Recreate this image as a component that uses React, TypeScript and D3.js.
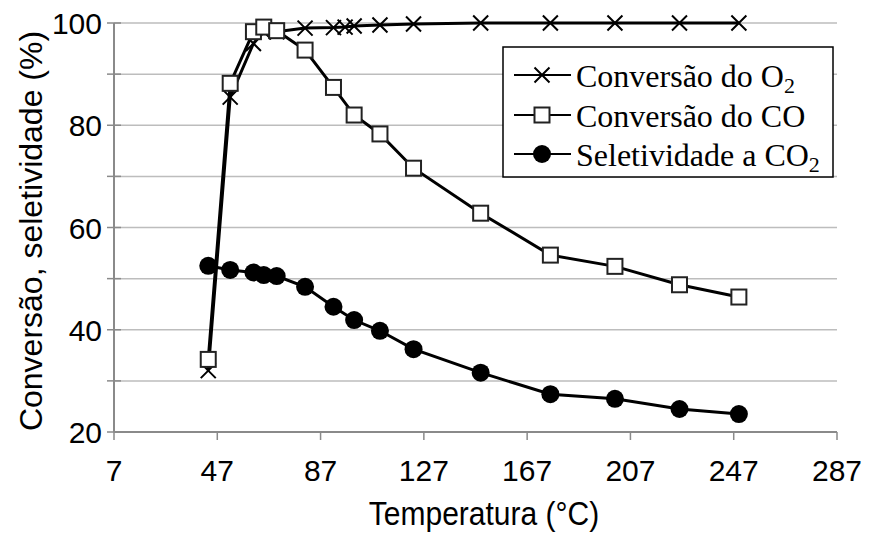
import React from "react";
import * as d3 from "d3";

const tempsO2 = [43.5, 52, 61, 65, 70, 81, 92, 96.5, 100, 110, 123, 149, 176, 201, 226, 249];
const convO2 = [32, 85.5, 96, 98.3, 98.3, 99.0, 99.1, 99.2, 99.4, 99.6, 99.8, 100, 100, 100, 100, 100];

const temps = [43.5, 52, 61, 65, 70, 81, 92, 100, 110, 123, 149, 176, 201, 226, 249];
const convCO = [34.2, 88.2, 98.3, 99.2, 98.5, 94.7, 87.4, 82.0, 78.3, 71.6, 62.8, 54.6, 52.4, 48.8, 46.4];
const selCO2 = [52.5, 51.7, 51.2, 50.7, 50.5, 48.4, 44.5, 41.9, 39.8, 36.2, 31.6, 27.4, 26.5, 24.5, 23.5];

const xTicks = [7, 47, 87, 127, 167, 207, 247, 287];
const yTicks = [20, 30, 40, 50, 60, 70, 80, 90, 100];
const yLabels = [20, 40, 60, 80, 100];

const legendLabels = [
  { main: "Conversão do O", sub: "2", marker: "x" },
  { main: "Conversão do CO", sub: "", marker: "square" },
  { main: "Seletividade a CO", sub: "2", marker: "circle" },
];

const W = 872;
const H = 534;

export default function App() {
  const x = d3.scaleLinear().domain([7, 287]).range([114, 837]);
  const y = d3.scaleLinear().domain([20, 100]).range([432, 23]);
  const line = d3
    .line<[number, number]>()
    .x((d) => x(d[0]))
    .y((d) => y(d[1]));

  const o2Pts: [number, number][] = tempsO2.map((t, i) => [t, convO2[i]]);
  const coPts: [number, number][] = temps.map((t, i) => [t, convCO[i]]);
  const selPts: [number, number][] = temps.map((t, i) => [t, selCO2[i]]);

  const sans = "'Liberation Sans', Arial, sans-serif";
  const serif = "'Liberation Serif', 'Times New Roman', serif";

  const xMark = (cx: number, cy: number, k: string) => (
    <path
      key={k}
      d={`M${cx - 7.5},${cy - 7.5}L${cx + 7.5},${cy + 7.5}M${cx - 7.5},${cy + 7.5}L${cx + 7.5},${cy - 7.5}`}
      stroke="#000"
      strokeWidth={2}
      fill="none"
    />
  );
  const sqMark = (cx: number, cy: number, k: string) => (
    <rect key={k} x={cx - 7.5} y={cy - 7.5} width={15} height={15} fill="#fff" stroke="#222" strokeWidth={2} />
  );
  const ciMark = (cx: number, cy: number, k: string) => <circle key={k} cx={cx} cy={cy} r={9} fill="#000" />;

  const legRows = [75, 115, 154];

  return (
    <svg width={W} height={H} style={{ position: "absolute", left: 0, top: 0, background: "#fff" }}>
      {/* grid */}
      {yTicks.slice(1).map((t) => (
        <line key={"g" + t} x1={x(7)} x2={x(287)} y1={y(t)} y2={y(t)} stroke="#bdbdbd" strokeWidth={1.5} />
      ))}
      {/* axes */}
      <line x1={x(7)} x2={x(287)} y1={y(20)} y2={y(20)} stroke="#8a8a8a" strokeWidth={2} />
      <line x1={x(7)} x2={x(7)} y1={y(100)} y2={y(20)} stroke="#8a8a8a" strokeWidth={2} />
      {yTicks.map((t) => (
        <line key={"yt" + t} x1={x(7) - 7} x2={x(7) + 7} y1={y(t)} y2={y(t)} stroke="#8a8a8a" strokeWidth={1.5} />
      ))}
      {xTicks.map((t) => (
        <line key={"xt" + t} x1={x(t)} x2={x(t)} y1={y(20)} y2={y(20) + 8} stroke="#8a8a8a" strokeWidth={1.5} />
      ))}
      {yLabels.map((t) => (
        <text key={"yl" + t} x={102} y={y(t) + 11} textAnchor="end" fontFamily={sans} fontSize={30} fill="#000">
          {t}
        </text>
      ))}
      {xTicks.map((t) => (
        <text key={"xl" + t} x={x(t)} y={481} textAnchor="middle" fontFamily={sans} fontSize={30} fill="#000">
          {t}
        </text>
      ))}
      <text
        transform="translate(484,525) scale(1,1.08)"
        textAnchor="middle"
        fontFamily={sans}
        fontSize={30}
        fill="#000"
      >
        Temperatura (°C)
      </text>
      <text
        transform="translate(42,231) rotate(-90)"
        textAnchor="middle"
        fontFamily={sans}
        fontSize={32}
        fill="#000"
      >
        Conversão, seletividade (%)
      </text>

      {/* lines */}
      <path d={line(o2Pts) || ""} fill="none" stroke="#000" strokeWidth={3} />
      <path d={line(coPts) || ""} fill="none" stroke="#000" strokeWidth={3} />
      <path d={line(selPts) || ""} fill="none" stroke="#000" strokeWidth={3} />

      {/* markers */}
      {o2Pts.map((p, i) => xMark(x(p[0]), y(p[1]), "o" + i))}
      {selPts.map((p, i) => ciMark(x(p[0]), y(p[1]), "s" + i))}
      {coPts.map((p, i) => sqMark(x(p[0]), y(p[1]), "c" + i))}

      {/* legend */}
      <rect x={503} y={47} width={330} height={130} fill="#fff" stroke="#000" strokeWidth={1.5} />
      {legendLabels.map((l, i) => {
        const cy = legRows[i];
        const cx = 542;
        return (
          <g key={"leg" + i}>
            <line x1={514} x2={571} y1={cy} y2={cy} stroke="#000" strokeWidth={2} />
            {l.marker === "x" && xMark(cx, cy, "lx")}
            {l.marker === "square" && sqMark(cx, cy, "ls")}
            {l.marker === "circle" && ciMark(cx, cy, "lc")}
            <text x={576} y={cy + 12} fontFamily={serif} fontSize={32} fill="#000">
              {l.main}
              {l.sub && (
                <tspan fontSize={22} dy={6}>
                  {l.sub}
                </tspan>
              )}
            </text>
          </g>
        );
      })}
    </svg>
  );
}
